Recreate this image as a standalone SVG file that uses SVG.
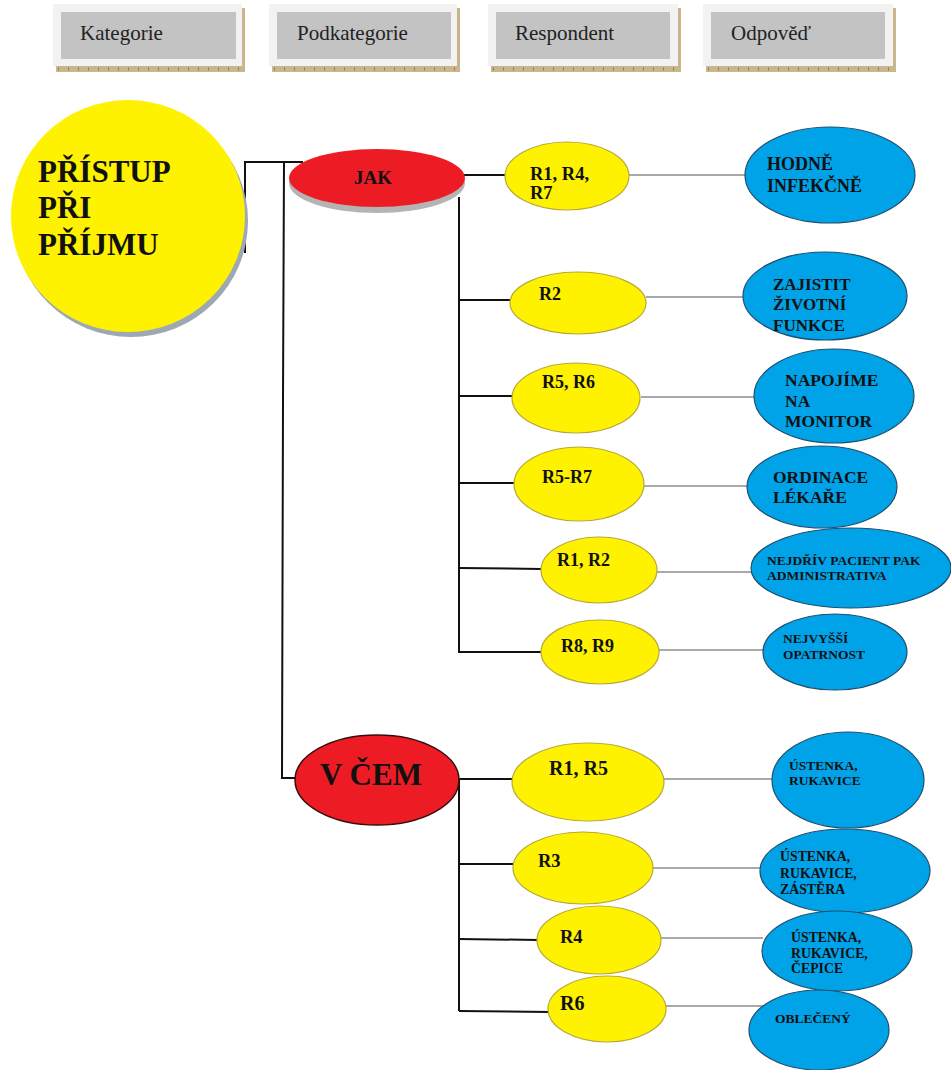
<svg xmlns="http://www.w3.org/2000/svg" width="951" height="1070" viewBox="0 0 951 1070">
  <style>
    .lbl { font-family: "Liberation Serif", "Times New Roman", serif; font-weight: bold; fill: #111; }
    .head { font-family: "Liberation Serif", "Times New Roman", serif; font-size: 21px; fill: #222; }
    .hframe { fill: #f2f2f2; }
    .hinner { fill: #c3c3c3; }
    .htan { fill: #c9b68c; }
    .hticks { stroke: #8f7d56; stroke-width: 3; stroke-dasharray: 1 9; }
    .yel { fill: #fff200; stroke: #b5a93a; stroke-width: 1.2; }
    .blu { fill: #00a2e8; stroke: #1d4f70; stroke-width: 1.2; }
    .red { fill: #ed1c24; }
    .wire { stroke: #111; stroke-width: 2; fill: none; }
    .thin { stroke: #8c8c8c; stroke-width: 1.6; fill: none; }
  </style>

  <rect width="951" height="1070" fill="#ffffff"/>

  <!-- column headers -->
  <g id="header-kategorie">
    <rect class="htan" x="56" y="8" width="189" height="64"/>
    <rect class="hframe" x="53" y="4" width="189" height="62"/>
    <line class="hticks" x1="58" y1="69" x2="244" y2="69"/>
    <rect class="hinner" x="61" y="12" width="175" height="47"/>
    <text class="head" x="80" y="40">Kategorie</text>
  </g>
  <g id="header-podkategorie">
    <rect class="htan" x="272" y="8" width="188" height="64"/>
    <rect class="hframe" x="269" y="4" width="188" height="62"/>
    <line class="hticks" x1="274" y1="69" x2="459" y2="69"/>
    <rect class="hinner" x="277" y="12" width="174" height="47"/>
    <text class="head" x="297" y="40">Podkategorie</text>
  </g>
  <g id="header-respondent">
    <rect class="htan" x="491" y="8" width="190" height="64"/>
    <rect class="hframe" x="488" y="4" width="190" height="62"/>
    <line class="hticks" x1="493" y1="69" x2="680" y2="69"/>
    <rect class="hinner" x="496" y="12" width="174" height="47"/>
    <text class="head" x="515" y="40">Respondent</text>
  </g>
  <g id="header-odpoved">
    <rect class="htan" x="706" y="8" width="190" height="64"/>
    <rect class="hframe" x="703" y="4" width="190" height="62"/>
    <line class="hticks" x1="708" y1="69" x2="895" y2="69"/>
    <rect class="hinner" x="711" y="12" width="174" height="47"/>
    <text class="head" x="731" y="40">Odpověď</text>
  </g>

  <!-- connectors -->
  <g id="connectors">
    <!-- root to subcategories -->
    <polyline class="wire" points="245,253 245,162 303,162"/>
    <polyline class="wire" points="284,162 283,400 282,778 296,778"/>
    <!-- JAK branch -->
    <line class="wire" x1="463" y1="175" x2="506" y2="175"/>
    <line class="wire" x1="459" y1="197" x2="459" y2="653"/>
    <line class="wire" x1="459" y1="300" x2="511" y2="300"/>
    <line class="wire" x1="459" y1="396" x2="513" y2="396"/>
    <line class="wire" x1="459" y1="483" x2="514" y2="483"/>
    <line class="wire" x1="459" y1="568" x2="541" y2="569"/>
    <line class="wire" x1="459" y1="652" x2="542" y2="652"/>
    <!-- V ČEM branch -->
    <line class="wire" x1="459" y1="779" x2="514" y2="779"/>
    <line class="wire" x1="459" y1="779" x2="459" y2="1011"/>
    <line class="wire" x1="459" y1="864" x2="515" y2="864"/>
    <line class="wire" x1="459" y1="939" x2="538" y2="940"/>
    <line class="wire" x1="459" y1="1011" x2="549" y2="1012"/>
    <!-- respondents to answers -->
    <line class="thin" x1="629" y1="175" x2="746" y2="175"/>
    <line class="thin" x1="646" y1="297" x2="744" y2="297"/>
    <line class="thin" x1="641" y1="397" x2="754" y2="397"/>
    <line class="thin" x1="644" y1="486" x2="748" y2="486"/>
    <line class="thin" x1="657" y1="572" x2="752" y2="572"/>
    <line class="thin" x1="659" y1="650" x2="764" y2="650"/>
    <line class="thin" x1="664" y1="779" x2="773" y2="779"/>
    <line class="thin" x1="652" y1="868" x2="761" y2="868"/>
    <line class="thin" x1="661" y1="938" x2="763" y2="938" stroke="#444"/>
    <line class="thin" x1="666" y1="1006" x2="763" y2="1006"/>
  </g>

  <!-- category -->
  <g id="node-pristup">
    <ellipse cx="131" cy="221" rx="117" ry="116" fill="#9ea8b4"/>
    <ellipse cx="128" cy="216" rx="117" ry="116" fill="#fff200"/>
    <text class="lbl" font-size="31" x="38" y="182">PŘÍSTUP</text>
    <text class="lbl" font-size="31" x="38" y="218">PŘI</text>
    <text class="lbl" font-size="31" x="38" y="255">PŘÍJMU</text>
  </g>

  <!-- subcategories -->
  <g id="node-jak">
    <ellipse cx="377" cy="183" rx="88" ry="30" fill="#b4b4b4"/>
    <ellipse class="red" cx="377" cy="178" rx="88" ry="29"/>
    <text class="lbl" font-size="19" x="373" y="184" text-anchor="middle">JAK</text>
  </g>
  <g id="node-vcem">
    <ellipse class="red" cx="377" cy="780" rx="82" ry="45" stroke="#3a0c0c" stroke-width="1.5"/>
    <text class="lbl" font-size="31" x="320" y="785">V ČEM</text>
  </g>

  <!-- respondents -->
  <g id="resp-r1-r4-r7">
    <ellipse class="yel" cx="567" cy="176" rx="62" ry="34"/>
    <text class="lbl" font-size="18.5" x="530" y="180">R1, R4,</text>
    <text class="lbl" font-size="18.5" x="530" y="199">R7</text>
  </g>
  <g id="resp-r2">
    <ellipse class="yel" cx="578" cy="303" rx="68" ry="31"/>
    <text class="lbl" font-size="18" x="539" y="300">R2</text>
  </g>
  <g id="resp-r5-r6">
    <ellipse class="yel" cx="576" cy="398" rx="64" ry="35"/>
    <text class="lbl" font-size="18" x="542" y="388">R5, R6</text>
  </g>
  <g id="resp-r5-r7">
    <ellipse class="yel" cx="579" cy="484" rx="65" ry="37"/>
    <text class="lbl" font-size="18" x="542" y="483">R5-R7</text>
  </g>
  <g id="resp-r1-r2">
    <ellipse class="yel" cx="599" cy="570" rx="58" ry="33"/>
    <text class="lbl" font-size="18" x="557" y="566">R1, R2</text>
  </g>
  <g id="resp-r8-r9">
    <ellipse class="yel" cx="600" cy="652" rx="59" ry="32"/>
    <text class="lbl" font-size="18" x="561" y="652">R8, R9</text>
  </g>
  <g id="resp-r1-r5">
    <ellipse class="yel" cx="588" cy="782" rx="76" ry="39"/>
    <text class="lbl" font-size="20" x="549" y="775">R1, R5</text>
  </g>
  <g id="resp-r3">
    <ellipse class="yel" cx="583" cy="868" rx="70" ry="36"/>
    <text class="lbl" font-size="18.5" x="538" y="867">R3</text>
  </g>
  <g id="resp-r4">
    <ellipse class="yel" cx="599" cy="940" rx="62" ry="34"/>
    <text class="lbl" font-size="18.5" x="560" y="943">R4</text>
  </g>
  <g id="resp-r6">
    <ellipse class="yel" cx="607" cy="1009" rx="59" ry="33"/>
    <text class="lbl" font-size="20" x="560" y="1010">R6</text>
  </g>

  <!-- answers -->
  <g id="ans-hodne-infekcne">
    <ellipse class="blu" cx="830" cy="175" rx="85" ry="48"/>
    <text class="lbl" font-size="18" x="767" y="170">HODNĚ</text>
    <text class="lbl" font-size="18" x="767" y="192">INFEKČNĚ</text>
  </g>
  <g id="ans-zajistit">
    <ellipse class="blu" cx="825" cy="296" rx="82" ry="44"/>
    <text class="lbl" font-size="17" x="773" y="290">ZAJISTIT</text>
    <text class="lbl" font-size="17" x="773" y="310">ŽIVOTNÍ</text>
    <text class="lbl" font-size="17" x="773" y="331">FUNKCE</text>
  </g>
  <g id="ans-napojime">
    <ellipse class="blu" cx="834" cy="396" rx="80" ry="47"/>
    <text class="lbl" font-size="17.5" x="785" y="386">NAPOJÍME</text>
    <text class="lbl" font-size="17.5" x="785" y="407">NA</text>
    <text class="lbl" font-size="17.5" x="785" y="427">MONITOR</text>
  </g>
  <g id="ans-ordinace">
    <ellipse class="blu" cx="822" cy="487" rx="75" ry="41"/>
    <text class="lbl" font-size="17.5" x="773" y="483">ORDINACE</text>
    <text class="lbl" font-size="17.5" x="773" y="503">LÉKAŘE</text>
  </g>
  <g id="ans-nejdriv">
    <ellipse class="blu" cx="851" cy="568" rx="100" ry="40"/>
    <text class="lbl" font-size="13.5" x="767" y="565">NEJDŘÍV PACIENT PAK</text>
    <text class="lbl" font-size="13.5" x="767" y="580">ADMINISTRATIVA</text>
  </g>
  <g id="ans-nejvyssi">
    <ellipse class="blu" cx="835" cy="652" rx="72" ry="38"/>
    <text class="lbl" font-size="13.5" x="783" y="643">NEJVYŠŠÍ</text>
    <text class="lbl" font-size="13.5" x="783" y="659">OPATRNOST</text>
  </g>
  <g id="ans-ustenka-rukavice">
    <ellipse class="blu" cx="848" cy="780" rx="76" ry="48"/>
    <text class="lbl" font-size="13.5" x="789" y="770">ÚSTENKA,</text>
    <text class="lbl" font-size="13.5" x="789" y="785">RUKAVICE</text>
  </g>
  <g id="ans-zastera">
    <ellipse class="blu" cx="845" cy="871" rx="85" ry="42"/>
    <text class="lbl" font-size="13.8" x="780" y="861">ÚSTENKA,</text>
    <text class="lbl" font-size="13.8" x="780" y="878">RUKAVICE,</text>
    <text class="lbl" font-size="13.8" x="780" y="894">ZÁSTĚRA</text>
  </g>
  <g id="ans-cepice">
    <ellipse class="blu" cx="837" cy="951" rx="75" ry="40"/>
    <text class="lbl" font-size="13.8" x="791" y="942">ÚSTENKA,</text>
    <text class="lbl" font-size="13.8" x="791" y="958">RUKAVICE,</text>
    <text class="lbl" font-size="13.8" x="791" y="973">ČEPICE</text>
  </g>
  <g id="ans-oblecen">
    <ellipse class="blu" cx="819" cy="1030" rx="70" ry="40"/>
    <text class="lbl" font-size="13.5" x="775" y="1023">OBLEČENÝ</text>
  </g>
</svg>
